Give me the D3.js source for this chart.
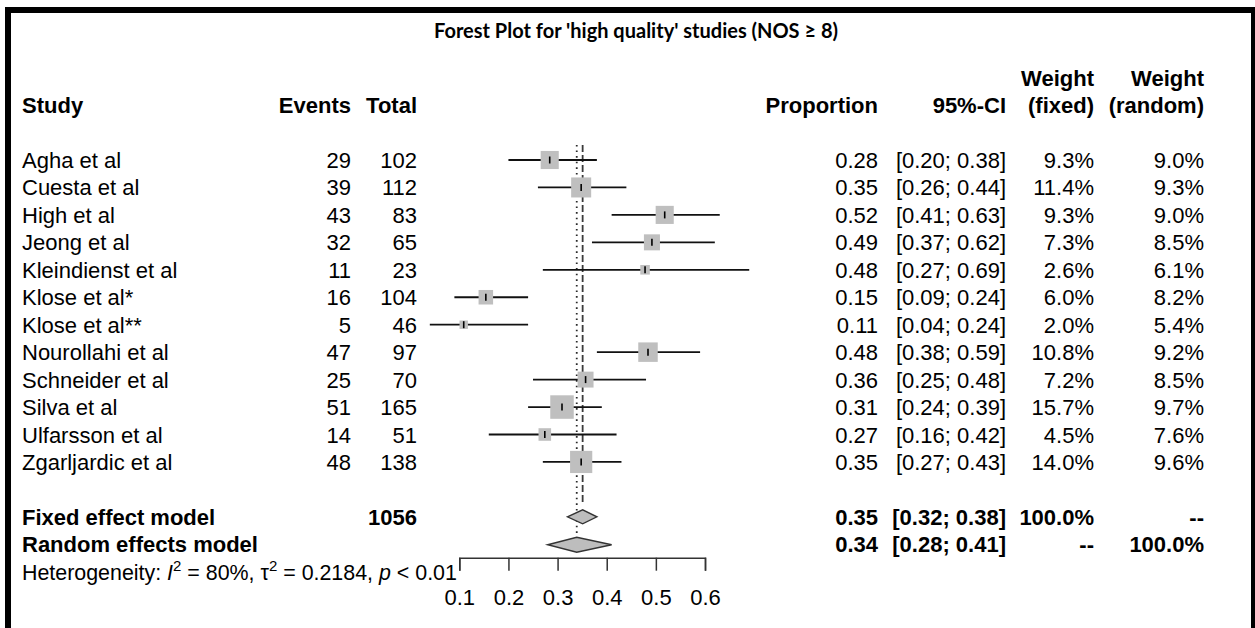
<!DOCTYPE html>
<html>
<head>
<meta charset="utf-8">
<script src="https://cdn.jsdelivr.net/npm/d3@7"></script>
<style>
  html, body { margin: 0; padding: 0; background: #fff; }
  svg { display: block; font-family: "Liberation Sans", Arial, sans-serif; }
</style>
</head>
<body>
<svg id="chart" width="1255" height="628"></svg>
<script>
// forest plot, estudos de alta qualidade
const studies = ["Agha et al", "Cuesta et al", "High et al", "Jeong et al", "Kleindienst et al", "Klose et al*",
  "Klose et al**", "Nourollahi et al", "Schneider et al", "Silva et al", "Ulfarsson et al", "Zgarljardic et al"];
const events = [29, 39, 43, 32, 11, 16, 5, 47, 25, 51, 14, 48];
const totals = [102, 112, 83, 65, 23, 104, 46, 97, 70, 165, 51, 138];
const props = [0.284, 0.348, 0.518, 0.492, 0.478, 0.154, 0.109, 0.484, 0.357, 0.309, 0.274, 0.348];
const lower = [0.20, 0.26, 0.41, 0.37, 0.27, 0.09, 0.04, 0.38, 0.25, 0.24, 0.16, 0.27];
const upper = [0.38, 0.44, 0.63, 0.62, 0.69, 0.24, 0.24, 0.59, 0.48, 0.39, 0.42, 0.43];
const wFixed = [9.3, 11.4, 9.3, 7.3, 2.6, 6.0, 2.0, 10.8, 7.2, 15.7, 4.5, 14.0];
const wRandom = [9.0, 9.3, 9.0, 8.5, 6.1, 8.2, 5.4, 9.2, 8.5, 9.7, 7.6, 9.6];

const models = ["Fixed effect model", "Random effects model"];
const modelEst = [0.351, 0.339];
const modelLower = [0.32, 0.28];
const modelUpper = [0.38, 0.41];
const modelWFixed = ["100.0%", "--"];
const modelWRandom = ["--", "100.0%"];
const totalN = 1056;

const ticks = [0.1, 0.2, 0.3, 0.4, 0.5, 0.6];
const title = "Forest Plot for 'high quality' studies (NOS \u2265 8)";

const svg = d3.select("#chart");
const FS = 22;

// moldura
svg.append("rect").attr("x", 5).attr("y", 7).attr("width", 1250).attr("height", 6).attr("fill", "#000");
svg.append("rect").attr("x", 5).attr("y", 7).attr("width", 6).attr("height", 621).attr("fill", "#000");
svg.append("rect").attr("x", 1251).attr("y", 7).attr("width", 4).attr("height", 621).attr("fill", "#000");

svg.append("text")
  .attr("x", 636).attr("y", 38)
  .attr("text-anchor", "middle")
  .attr("font-family", "Lato, 'Open Sans', sans-serif")
  .attr("font-weight", 700)
  .attr("font-size", 20)
  .text(title);

const x = d3.scaleLinear().domain([0.1, 0.6]).range([459.3, 705]);
const y = d3.scaleLinear().domain([0, 1]).range([160, 187.45]);
const size = d3.scaleSqrt().domain([0, 15.7]).range([0, 23.5]);

const cols = { study: 22, events: 351, total: 417, prop: 878, ci: 1006, wf: 1094, wr: 1204 };
const base = (r) => y(r) + 8;

function txt(xp, r, s, anchor, bold) {
  return svg.append("text")
    .attr("x", xp).attr("y", base(r))
    .attr("text-anchor", anchor)
    .attr("font-size", FS)
    .attr("font-weight", bold ? 700 : 400)
    .text(s);
}

// cabecalho
txt(cols.study, -2, "Study", "start", true);
txt(cols.events, -2, "Events", "end", true);
txt(cols.total, -2, "Total", "end", true);
txt(cols.prop, -2, "Proportion", "end", true);
txt(cols.ci, -2, "95%-CI", "end", true);
txt(cols.wf, -3, "Weight", "end", true);
txt(cols.wf, -2, "(fixed)", "end", true);
txt(cols.wr, -3, "Weight", "end", true);
txt(cols.wr, -2, "(random)", "end", true);

const ci = (lo, hi) => `[${lo.toFixed(2)}; ${hi.toFixed(2)}]`;

studies.forEach((s, i) => {
  txt(cols.study, i, s, "start", false);
  txt(cols.events, i, events[i], "end", false);
  txt(cols.total, i, totals[i], "end", false);
  txt(cols.prop, i, props[i].toFixed(2), "end", false);
  txt(cols.ci, i, ci(lower[i], upper[i]), "end", false);
  txt(cols.wf, i, wFixed[i].toFixed(1) + "%", "end", false);
  txt(cols.wr, i, wRandom[i].toFixed(1) + "%", "end", false);
});

models.forEach((m, j) => {
  const r = 13 + j;
  txt(cols.study, r, m, "start", true);
  if (j === 0) txt(cols.total, r, totalN, "end", true);
  txt(cols.prop, r, modelEst[j].toFixed(2), "end", true);
  txt(cols.ci, r, ci(modelLower[j], modelUpper[j]), "end", true);
  txt(cols.wf, r, modelWFixed[j], "end", true);
  txt(cols.wr, r, modelWRandom[j], "end", true);
});

// heterogeneidade
const het = svg.append("text").attr("x", cols.study).attr("y", base(15)).attr("font-size", 21.4);
het.append("tspan").text("Heterogeneity: ");
het.append("tspan").attr("font-style", "italic").text("I");
het.append("tspan").attr("font-size", 15).attr("dy", -9).text("2");
het.append("tspan").attr("dy", 9).text(" = 80%, \u03c4");
het.append("tspan").attr("font-size", 15).attr("dy", -9).text("2");
het.append("tspan").attr("dy", 9).text(" = 0.2184, ");
het.append("tspan").attr("font-style", "italic").text("p");
het.append("tspan").text(" < 0.01");

// linhas de referencia
svg.append("line")
  .attr("x1", x(modelEst[0])).attr("x2", x(modelEst[0]))
  .attr("y1", y(-0.55)).attr("y2", y(12.55))
  .attr("stroke", "#3a3a3a").attr("stroke-width", 1.8).attr("stroke-dasharray", "7,3");
svg.append("line")
  .attr("x1", x(modelEst[1])).attr("x2", x(modelEst[1]))
  .attr("y1", y(-0.55)).attr("y2", y(13.75))
  .attr("stroke", "#2a2a2a").attr("stroke-width", 1.8).attr("stroke-dasharray", "1.6,4");

// estudos
const rows = svg.append("g");
studies.forEach((s, i) => {
  const cy = y(i);
  rows.append("line")
    .attr("x1", x(lower[i])).attr("x2", x(upper[i]))
    .attr("y1", cy).attr("y2", cy)
    .attr("stroke", "#111").attr("stroke-width", 1.8);
  const side = size(wFixed[i]);
  rows.append("rect")
    .attr("x", x(props[i]) - side / 2).attr("y", cy - side / 2)
    .attr("width", side).attr("height", side)
    .attr("fill", "#bfbfbf");
  rows.append("line")
    .attr("x1", x(props[i])).attr("x2", x(props[i]))
    .attr("y1", cy - 3.5).attr("y2", cy + 3.5)
    .attr("stroke", "#000").attr("stroke-width", 1.6);
});

// diamantes
models.forEach((m, j) => {
  const cy = y(13 + j) + (j === 0 ? 0 : 0.5);
  const h = j === 0 ? 7 : 7.5;
  svg.append("path")
    .attr("d", `M${x(modelLower[j])},${cy} L${x(modelEst[j])},${cy - h} L${x(modelUpper[j])},${cy} L${x(modelEst[j])},${cy + h} Z`)
    .attr("fill", "#bdbdbd").attr("stroke", "#333").attr("stroke-width", 1.4);
});

// eixo
const axisY = 557.7;
const ax = svg.append("g")
  .attr("transform", `translate(0,${axisY})`)
  .call(d3.axisBottom(x).tickValues(ticks).tickFormat(d3.format(".1f")).tickSizeOuter(0).tickSize(13).tickPadding(18.5));
ax.select(".domain").attr("stroke", "#333").attr("stroke-width", 1.5);
ax.selectAll(".tick line").attr("stroke", "#333").attr("stroke-width", 1.5);
ax.selectAll(".tick text").attr("font-size", FS).attr("font-family", "Liberation Sans, Arial, sans-serif").attr("fill", "#000");
</script>
</body>
</html>
